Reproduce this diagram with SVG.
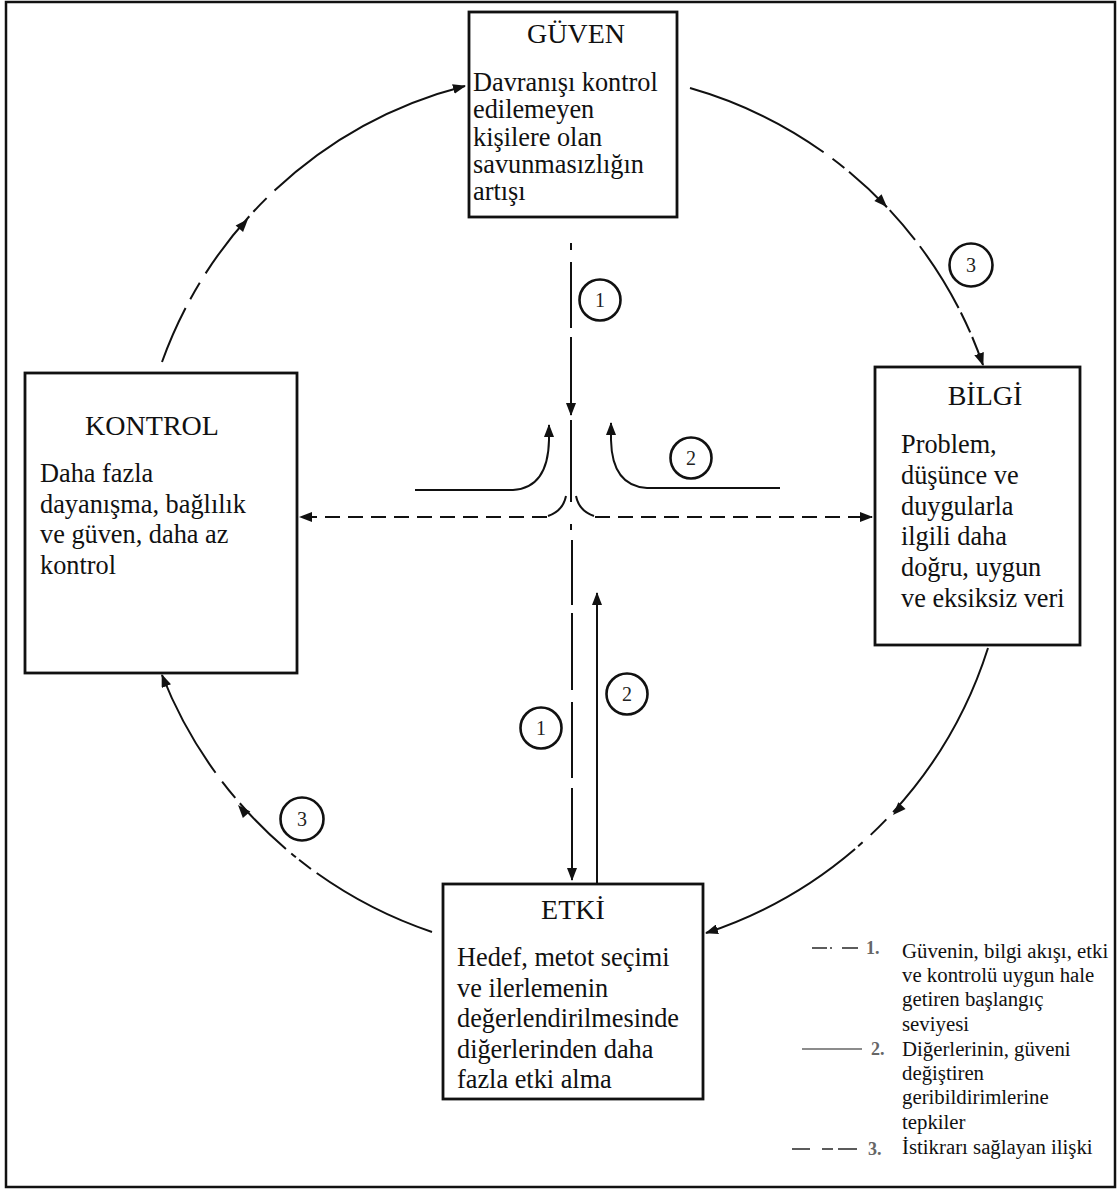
<svg xmlns="http://www.w3.org/2000/svg" width="1120" height="1189" viewBox="0 0 1120 1189">
<defs>
<marker id="arr" markerWidth="14" markerHeight="10" refX="12" refY="5" orient="auto" markerUnits="userSpaceOnUse"><path d="M0,0 L13,5 L0,10 Z" fill="#111"/></marker>
<path id="ah" d="M0,0 L-13,-5 L-13,5 Z" fill="#111"/>
<style>
.box{fill:#fff;stroke:#111;stroke-width:2.8}
.title{font-family:"Liberation Serif","Times New Roman",serif;font-size:28px;fill:#111;text-anchor:middle}
.body{font-family:"Liberation Serif","Times New Roman",serif;font-size:26.3px;fill:#111}
.ln{fill:none;stroke:#111;stroke-width:2}
.cir{fill:#fff;stroke:#111;stroke-width:2.6}
.num{font-family:"Liberation Serif","Times New Roman",serif;font-size:20px;fill:#222;text-anchor:middle}
.leg{font-family:"Liberation Serif","Times New Roman",serif;font-size:20.8px;fill:#111}
.lnum{font-family:"Liberation Serif","Times New Roman",serif;font-size:18px;font-weight:bold;fill:#666}
</style>
</defs>
<rect x="6" y="2" width="1109" height="1185" fill="#fff" stroke="#111" stroke-width="2.5"/>

<g id="connectors">
<path class="ln" d="M690,88 A437,437 0 0 1 983,365" stroke-dasharray="149 11 15 6 52 4 39 8 73 5 22 5 40" marker-end="url(#arr)"/>
<use href="#ah" transform="translate(887,207) rotate(46)"/>
<path class="ln" d="M988,648 A440,440 0 0 1 706,933" stroke-dasharray="191 10 22 11 6 4 300" marker-end="url(#arr)"/>
<use href="#ah" transform="translate(893,815) rotate(133.5)"/>
<path class="ln" d="M432,932 A442,442 0 0 1 162,675" stroke-dasharray="130 7 15 4 6 7 65 7 21 11 300" marker-end="url(#arr)"/>
<use href="#ah" transform="translate(238,805) rotate(228.6)"/>
<path class="ln" d="M162,362 A437,437 0 0 1 465,86" stroke-dasharray="59 10 19 11 72 6 19 11 400" marker-end="url(#arr)"/>
<use href="#ah" transform="translate(248,219) rotate(-48.3)"/>

<line class="ln" x1="571" y1="243" x2="571" y2="250"/>
<line class="ln" x1="571" y1="262" x2="571" y2="328"/>
<line class="ln" x1="571" y1="337" x2="571" y2="415" marker-end="url(#arr)"/>
<line class="ln" x1="571" y1="420" x2="571" y2="502"/>
<path class="ln" d="M548,516 Q563,511 566,496"/>
<path class="ln" d="M594,516 Q579,511 576,496"/>
<line class="ln" x1="547" y1="517" x2="300" y2="517" stroke-dasharray="15 8" marker-end="url(#arr)"/>
<line class="ln" x1="595" y1="517" x2="872" y2="517" stroke-dasharray="15 8" marker-end="url(#arr)"/>
<line class="ln" x1="571" y1="524" x2="571" y2="530"/>

<path class="ln" d="M415,490 L513,490 Q548,488 549,440 L549,425" marker-end="url(#arr)"/>
<path class="ln" d="M780,488 L647,488 Q612,486 611,440 L611,423" marker-end="url(#arr)"/>

<line class="ln" x1="572" y1="540" x2="572" y2="605"/>
<line class="ln" x1="572" y1="613" x2="572" y2="690"/>
<line class="ln" x1="572" y1="702" x2="572" y2="778"/>
<line class="ln" x1="572" y1="788" x2="572" y2="880" marker-end="url(#arr)"/>
<line class="ln" x1="597" y1="884" x2="597" y2="593" marker-end="url(#arr)"/>

<circle class="cir" cx="600" cy="300" r="20.5"/><text class="num" x="600" y="307">1</text>
<circle class="cir" cx="691" cy="458" r="20.5"/><text class="num" x="691" y="465">2</text>
<circle class="cir" cx="541" cy="728" r="20.5"/><text class="num" x="541" y="735">1</text>
<circle class="cir" cx="627" cy="694" r="20.5"/><text class="num" x="627" y="701">2</text>
<circle class="cir" cx="971" cy="265" r="21.5"/><text class="num" x="971" y="272">3</text>
<circle class="cir" cx="302" cy="819" r="21.5"/><text class="num" x="302" y="826">3</text>
</g>

<g id="guven">
<rect class="box" x="469" y="12" width="208" height="205"/>
<text class="title" x="576" y="43">GÜVEN</text>
<text class="body" x="473" y="91">Davranışı kontrol</text>
<text class="body" x="473" y="118">edilemeyen</text>
<text class="body" x="473" y="146">kişilere olan</text>
<text class="body" x="473" y="173">savunmasızlığın</text>
<text class="body" x="473" y="200">artışı</text>
</g>

<g id="kontrol">
<rect class="box" x="25" y="373" width="272" height="300"/>
<text class="title" x="152" y="435">KONTROL</text>
<text class="body" x="40" y="482">Daha fazla</text>
<text class="body" x="40" y="513">dayanışma, bağlılık</text>
<text class="body" x="40" y="543">ve güven, daha az</text>
<text class="body" x="40" y="574">kontrol</text>
</g>

<g id="bilgi">
<rect class="box" x="875" y="367" width="205" height="278"/>
<text class="title" x="985" y="405">BİLGİ</text>
<text class="body" x="901" y="453">Problem,</text>
<text class="body" x="901" y="484">düşünce ve</text>
<text class="body" x="901" y="515">duygularla</text>
<text class="body" x="901" y="545">ilgili daha</text>
<text class="body" x="901" y="576">doğru, uygun</text>
<text class="body" x="901" y="607">ve eksiksiz veri</text>
</g>

<g id="etki">
<rect class="box" x="443" y="884" width="260" height="215"/>
<text class="title" x="573" y="919">ETKİ</text>
<text class="body" x="457" y="966">Hedef, metot seçimi</text>
<text class="body" x="457" y="997">ve ilerlemenin</text>
<text class="body" x="457" y="1027">değerlendirilmesinde</text>
<text class="body" x="457" y="1058">diğerlerinden daha</text>
<text class="body" x="457" y="1088">fazla etki alma</text>
</g>

<g id="legend">
<g stroke="#333" stroke-width="1.6">
<line x1="812" y1="948" x2="827" y2="948"/><line x1="830" y1="948" x2="832" y2="948"/><line x1="842" y1="948" x2="858" y2="948"/>
<line x1="802" y1="1049" x2="862" y2="1049" stroke="#666"/>
<line x1="792" y1="1149" x2="810" y2="1149"/><line x1="822" y1="1149" x2="833" y2="1149"/><line x1="838" y1="1149" x2="857" y2="1149"/>
</g>
<text class="lnum" x="866" y="954">1.</text>
<text class="lnum" x="871" y="1055">2.</text>
<text class="lnum" x="868" y="1155">3.</text>
<text class="leg" x="902" y="958">Güvenin, bilgi akışı, etki</text>
<text class="leg" x="902" y="982">ve kontrolü uygun hale</text>
<text class="leg" x="902" y="1006">getiren başlangıç</text>
<text class="leg" x="902" y="1031">seviyesi</text>
<text class="leg" x="902" y="1056">Diğerlerinin, güveni</text>
<text class="leg" x="902" y="1080">değiştiren</text>
<text class="leg" x="902" y="1104">geribildirimlerine</text>
<text class="leg" x="902" y="1129">tepkiler</text>
<text class="leg" x="902" y="1154">İstikrarı sağlayan ilişki</text>
</g>
</svg>
